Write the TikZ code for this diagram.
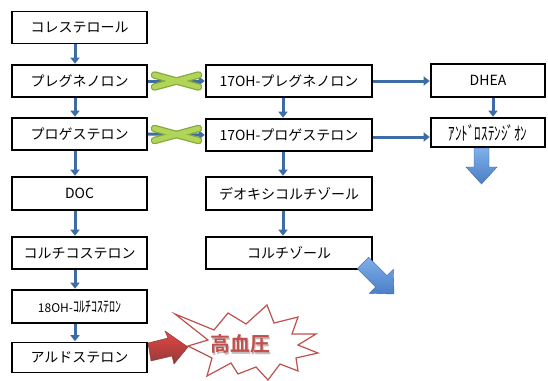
\documentclass[tikz,border=0pt]{standalone}
\usepackage{fontspec}
\setmainfont{Noto Sans CJK JP}
\newfontfamily\jpbold{Noto Sans CJK JP Bold}
\usetikzlibrary{arrows.meta,calc}
\definecolor{arrblue}{HTML}{3E6CA6}
\definecolor{bigblue}{HTML}{4A7EC6}
\definecolor{lightblue}{HTML}{7FB0EA}
\definecolor{xgreen}{HTML}{B0D558}
\definecolor{xgreendark}{HTML}{86A83A}
\definecolor{hred}{HTML}{C0504D}
\tikzset{
  box/.style={draw=black, line width=1.6pt, fill=white, inner sep=0pt, font=\fontsize{14pt}{16pt}\selectfont},
  lbox/.style={box, minimum width=135pt},
  mbox/.style={box, minimum width=166pt},
  rbox/.style={box, minimum width=114pt},
  arr/.style={draw=arrblue, line width=3pt, -{Triangle[width=9pt,length=6pt]}, shorten >=0.5pt},
  xbar/.style={line width=7.5pt, draw=xgreendark, line cap=round},
  xbarin/.style={line width=5pt, draw=xgreen, line cap=round},
}
\begin{document}
\begin{tikzpicture}[x=1pt,y=-1pt]
\useasboundingbox (0,0) rectangle (548,380);
\fill[white] (0,0) rectangle (548,380);
% left column
\node[lbox, minimum height=32pt] (chol) at (79.5,27.5) {コレステロール};
\node[lbox, minimum height=32pt] (preg) at (79.5,81) {プレグネノロン};
\node[lbox, minimum height=32pt] (prog) at (79.5,134) {プロゲステロン};
\node[lbox, minimum height=33pt] (doc) at (79.5,193.5) {DOC};
\node[lbox, minimum height=32pt] (cortico) at (79.5,253) {コルチコステロン};
\node[lbox, minimum height=33pt] (oh18) at (79.5,306.5) {\fontsize{12pt}{14pt}\selectfont 18OH-\scalebox{1.0}[1.3]{ｺﾙﾁｺｽﾃﾛﾝ}};
\node[lbox, minimum height=30pt] (aldo) at (79.5,357.5) {アルドステロン};
% middle column
\node[mbox, minimum height=32pt] (ohpreg) at (289,81) {17OH-プレグネノロン};
\node[mbox, minimum height=32pt] (ohprog) at (289,135) {17OH-プロゲステロン};
\node[mbox, minimum height=33pt] (deoxy) at (289,193.5) {デオキシコルチゾール};
\node[mbox, minimum height=32pt] (cortisol) at (289,253) {コルチゾール};
% right column
\node[rbox, minimum height=33pt] (dhea) at (488,80.5) {DHEA};
\node[rbox, minimum height=29pt] (andro) at (488,132.5) {\fontsize{15pt}{17pt}\selectfont\scalebox{0.87}[1.25]{ｱﾝﾄﾞﾛｽﾃﾝｼﾞｵﾝ}};
% vertical arrows left
\foreach \a/\b in {chol/preg,preg/prog,prog/doc,doc/cortico,cortico/oh18,oh18/aldo}{
  \draw[arr] ([xshift=-4.5pt]\a.south) -- ([xshift=-4.5pt]\b.north);
}
% vertical arrows middle
\foreach \a/\b in {ohpreg/ohprog,ohprog/deoxy,deoxy/cortisol}{
  \draw[arr] ([xshift=-6pt]\a.south) -- ([xshift=-6pt]\b.north);
}
\draw[arr] ([xshift=5pt]dhea.south) -- ([xshift=5pt]andro.north);
% horizontal arrows
\draw[arr] (preg.east) -- (ohpreg.west);
\draw[arr] (prog.east) -- (ohprog.west);
\draw[arr] (ohpreg.east) -- (ohpreg.east -| dhea.west);
\draw[arr] ([yshift=-2pt]ohprog.east) -- ([yshift=-2pt]ohprog.east -| andro.west);
% green crosses
\foreach \a/\b in {preg/ohpreg,prog/ohprog}{
  \coordinate (xc) at ($(\a.east)!0.5!(\b.west)$);
  \draw[xbar] ($(xc)+(-22,-6)$) -- ($(xc)+(22,6)$);
  \draw[xbar] ($(xc)+(-22,6)$) -- ($(xc)+(22,-6)$);
  \draw[xbarin] ($(xc)+(-22,-6)$) -- ($(xc)+(22,6)$);
  \draw[xbarin] ($(xc)+(-22,6)$) -- ($(xc)+(22,-6)$);
}
% big down arrow
\shade[top color=lightblue, bottom color=bigblue, draw=bigblue!80!black, line width=0.4pt]
  (474,148) -- (489,148) -- (489,167) -- (497,167) -- (481.5,184) -- (466,167) -- (474,167) -- cycle;
% big SE arrow
\shade[top color=lightblue, bottom color=bigblue, draw=bigblue!80!black, line width=0.4pt]
  (368.6,257.2) -- (387.0,275.6) -- (393.3,269.3) -- (394,294) -- (369.3,293.3) -- (375.6,287.0) -- (357.2,268.6) -- cycle;
% explosion
\draw[draw=hred, line width=1.2pt, fill=white, line join=miter]
  (175,314) -- (214,330) -- (228,313) -- (246,324) -- (267,305) -- (274,323) -- (298,317) -- (292,334)
  -- (316,334) -- (298,345) -- (318,353) -- (296,358) -- (298,371) -- (280,364) -- (268,380) -- (256,367)
  -- (238,374) -- (231,363) -- (207,376) -- (212,358) -- (188,346) -- (208,340) -- cycle;
\node[text=gray!50, font=\jpbold\fontsize{20pt}{22pt}\selectfont] at (241.5,345.5) {高血圧};
\node[text=hred, font=\jpbold\fontsize{20pt}{22pt}\selectfont] (hbp) at (240,344) {高血圧};
% red arrow
\shade[top color=red!55!hred!85!white, bottom color=hred!75!black, draw=hred!70!black, line width=0.4pt]
  (148,343) -- (168,338) -- (165,331) -- (188,347) -- (174,364) -- (172,356) -- (151,361) -- cycle;
\end{tikzpicture}
\end{document}
